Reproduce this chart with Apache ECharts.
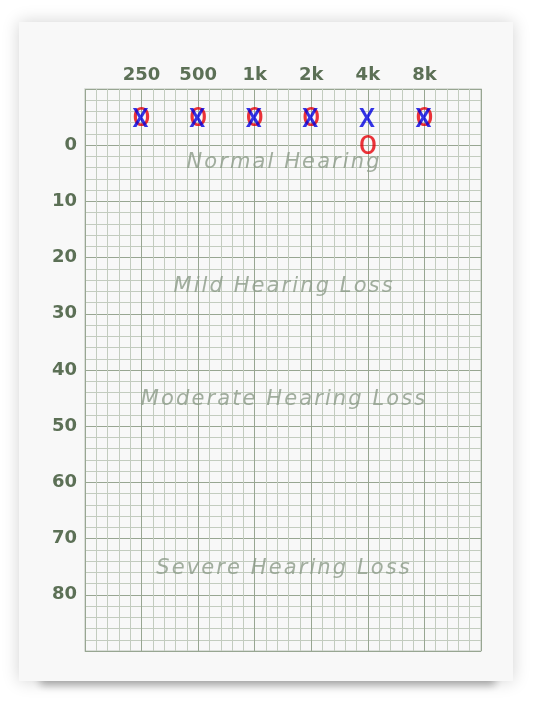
<!DOCTYPE html>
<html>
<head>
<meta charset="utf-8">
<script src="https://cdn.jsdelivr.net/npm/echarts@6/dist/echarts.min.js"></script>
<style>
html,body{margin:0;padding:0;background:#ffffff;}
#chart{width:542px;height:706px;}
</style>
</head>
<body>
<div id="chart"></div>
<script>
// ---- data ----
var frequencies = [250, 500, 1000, 2000, 4000, 8000];
var freqTickLabels = ['', '250', '500', '1k', '2k', '4k', '8k', ''];
var rightEarO = [-5, -5, -5, -5, 0, -5];   // red O
var leftEarX  = [-5, -5, -5, -5, -5, -5];  // blue X
var dbTicks = [0, 10, 20, 30, 40, 50, 60, 70, 80];
var bandNames = ['Normal Hearing', 'Mild Hearing Loss', 'Moderate Hearing Loss', 'Severe Hearing Loss'];
var bandLevels = [3, 25.2, 45.3, 75.4];
var baseFreq = 125;

// ---- build ----
function octave(f){ return Math.log(f / baseFreq) / Math.LN2; }
var oData = frequencies.map(function(f, i){ return [octave(f), rightEarO[i]]; });
var xData = frequencies.map(function(f, i){ return [octave(f), leftEarX[i]]; });
var bandData = bandNames.map(function(n, i){ return [3.5, bandLevels[i], n]; });

function spaced(s){
  return s.split('').map(function(c){ return '{c|' + c + '}'; }).join('');
}

var labelColor = '#5c7056';
var chart = echarts.init(document.getElementById('chart'), null, {renderer: 'canvas'});
chart.setOption({
  animation: false,
  graphic: [
    {type: 'rect', z: -10, shape: {x: 40, y: 668, width: 455, height: 12},
     style: {fill: '#cccccc', shadowBlur: 8, shadowOffsetY: 5, shadowColor: 'rgba(0,0,0,0.32)'}},
    {type: 'rect', z: -9, shape: {x: 19, y: 22, width: 494, height: 659},
     style: {fill: '#f8f8f8', shadowBlur: 16, shadowColor: 'rgba(0,0,0,0.18)'}}
  ],
  grid: {left: 85, top: 89, width: 396, height: 562, show: true, borderColor: '#d0d5ce', borderWidth: 1.5, backgroundColor: 'transparent'},
  xAxis: {
    type: 'value', position: 'top', min: 0, max: 7, interval: 1,
    axisLine: {show: false}, axisTick: {show: false},
    axisLabel: {
      margin: 5, color: labelColor, fontFamily: 'DejaVu Sans', fontSize: 18, fontWeight: 600,
      formatter: function(v){ return freqTickLabels[Math.round(v)] || ''; }
    },
    splitLine: {show: true, lineStyle: {color: '#98a692', width: 1}},
    minorTick: {show: false, splitNumber: 5},
    minorSplitLine: {show: true, lineStyle: {color: '#c3ccbf', width: 1}}
  },
  yAxis: {
    type: 'value', inverse: true, min: -10, max: 90, interval: 10,
    axisLine: {show: false}, axisTick: {show: false},
    axisLabel: {
      margin: 8, color: labelColor, fontFamily: 'DejaVu Sans', fontSize: 18, fontWeight: 600,
      formatter: function(v){ return dbTicks.indexOf(v) >= 0 ? String(v) : ''; }
    },
    splitLine: {show: true, lineStyle: {color: '#98a692', width: 1}},
    minorTick: {show: false, splitNumber: 5},
    minorSplitLine: {show: true, lineStyle: {color: '#c3ccbf', width: 1}}
  },
  series: [
    {
      type: 'scatter', name: 'bands', data: bandData, symbolSize: 0, silent: true, z: 3,
      label: {show: true, position: 'inside', formatter: function(p){ return spaced(p.data[2]); },
        rich: {c: {color: '#8b9a87', fontFamily: 'DejaVu Sans', fontStyle: 'italic', fontSize: 21, padding: [0, 1.05, 0, 1.05]}}}
    },
    {
      type: 'scatter', name: 'Right (O)', data: oData, symbolSize: 0, z: 5,
      label: {show: true, position: 'inside', formatter: 'O', color: '#e60008', offset: [0, 2],
        fontFamily: 'Roboto', fontSize: 26, fontWeight: 500}
    },
    {
      type: 'scatter', name: 'Left (X)', data: xData, symbolSize: 0, z: 6,
      label: {show: true, position: 'inside', formatter: 'X', color: '#0000e0', offset: [-1, 3],
        fontFamily: 'Roboto', fontSize: 26, fontWeight: 500}
    }
  ]
});
</script>
</body>
</html>
